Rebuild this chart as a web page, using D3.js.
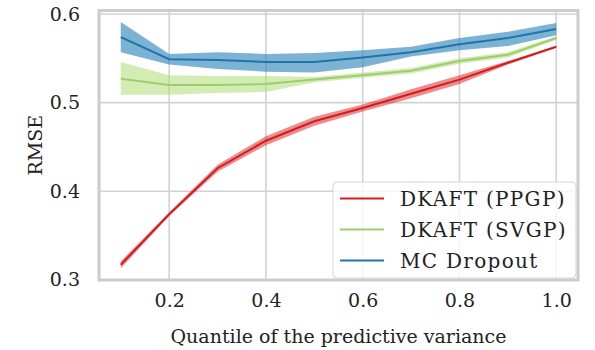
<!DOCTYPE html>
<html>
<head>
<meta charset="utf-8">
<script src="https://cdn.jsdelivr.net/npm/d3@7"></script>
<style>
  body { margin: 0; background: #fff; }
  svg text { font-family: "DejaVu Serif", serif; fill: #222; }
</style>
</head>
<body>
<div id="chart"></div>
<script>
// quantiles of the predictive variance
const quantiles = [0.1, 0.2, 0.3, 0.4, 0.5, 0.6, 0.7, 0.8, 0.9, 1.0];

// RMSE mean and band (lower / upper) per method
const ppgpMean  = [0.317, 0.374, 0.426, 0.457, 0.479, 0.494, 0.510, 0.526, 0.545, 0.563];
const ppgpLow   = [0.313, 0.372, 0.422, 0.452, 0.474, 0.490, 0.505, 0.521, 0.543, 0.562];
const ppgpHigh  = [0.321, 0.376, 0.430, 0.462, 0.484, 0.498, 0.515, 0.531, 0.547, 0.564];

const svgpMean  = [0.527, 0.520, 0.520, 0.521, 0.526, 0.531, 0.536, 0.547, 0.554, 0.573];
const svgpLow   = [0.509, 0.509, 0.511, 0.512, 0.523, 0.528, 0.533, 0.544, 0.551, 0.571];
const svgpHigh  = [0.546, 0.531, 0.530, 0.530, 0.529, 0.534, 0.539, 0.550, 0.557, 0.575];

const mcMean    = [0.574, 0.549, 0.548, 0.546, 0.546, 0.551, 0.557, 0.566, 0.573, 0.583];
const mcLow     = [0.557, 0.543, 0.538, 0.535, 0.534, 0.540, 0.552, 0.559, 0.564, 0.576];
const mcHigh    = [0.591, 0.555, 0.557, 0.555, 0.556, 0.559, 0.563, 0.573, 0.580, 0.590];

const seriesNames = ["DKAFT (PPGP)", "DKAFT (SVGP)", "MC Dropout"];
const xTicks = [0.2, 0.4, 0.6, 0.8, 1.0];
const yTicks = [0.3, 0.4, 0.5, 0.6];

const W = 595, H = 350;
const mLeft = 99, mRight = 578, mTop = 10.5, mBottom = 280;

const series = [
  { name: seriesNames[0], mean: ppgpMean, low: ppgpLow, high: ppgpHigh, line: "#d41c1c", fill: "#d7191c", op: 0.5 },
  { name: seriesNames[1], mean: svgpMean, low: svgpLow, high: svgpHigh, line: "#9fcd6e", fill: "#a6d96a", op: 0.5 },
  { name: seriesNames[2], mean: mcMean,   low: mcLow,   high: mcHigh,   line: "#1f74aa", fill: "#2b83ba", op: 0.62 }
];

const x = d3.scaleLinear().domain([0.055, 1.045]).range([mLeft, mRight]);
const y = d3.scaleLinear().domain([0.2998, 0.604]).range([mBottom, mTop]);

const svg = d3.select("#chart").append("svg")
  .attr("width", W).attr("height", H);

// grid
svg.append("g").selectAll("line").data(xTicks).enter().append("line")
  .attr("x1", d => x(d)).attr("x2", d => x(d))
  .attr("y1", mTop).attr("y2", mBottom)
  .attr("stroke", "#d2d2d2").attr("stroke-width", 1.6);
svg.append("g").selectAll("line").data(yTicks).enter().append("line")
  .attr("x1", mLeft).attr("x2", mRight)
  .attr("y1", d => y(d)).attr("y2", d => y(d))
  .attr("stroke", "#d2d2d2").attr("stroke-width", 1.6);

// bands and lines
const area = d3.area().x((d, i) => x(quantiles[i])).y0(d => y(d[0])).y1(d => y(d[1]));
const line = d3.line().x((d, i) => x(quantiles[i])).y(d => y(d));

series.forEach(s => {
  svg.append("path")
    .datum(s.low.map((v, i) => [v, s.high[i]]))
    .attr("d", area)
    .attr("fill", s.fill).attr("fill-opacity", s.op);
});
series.forEach(s => {
  svg.append("path")
    .datum(s.mean)
    .attr("d", line)
    .attr("fill", "none").attr("stroke", s.line).attr("stroke-width", 2);
});

// frame
svg.append("rect")
  .attr("x", mLeft).attr("y", mTop)
  .attr("width", mRight - mLeft).attr("height", mBottom - mTop)
  .attr("fill", "none").attr("stroke", "#cccccc").attr("stroke-width", 3);

// axes (no tick marks, just labels)
const xAxis = svg.append("g").attr("transform", `translate(0,${mBottom})`)
  .call(d3.axisBottom(x).tickValues(xTicks).tickFormat(d3.format(".1f")).tickSize(0).tickPadding(14));
const yAxis = svg.append("g").attr("transform", `translate(${mLeft},0)`)
  .call(d3.axisLeft(y).tickValues(yTicks).tickFormat(d3.format(".1f")).tickSize(0).tickPadding(19));
[xAxis, yAxis].forEach(a => {
  a.select(".domain").remove();
  a.selectAll("text").attr("font-family", "DejaVu Serif").attr("font-size", 19).attr("fill", "#222");
});
xAxis.selectAll("text").attr("dy", "0.71em");

svg.append("text")
  .attr("x", (mLeft + mRight) / 2).attr("y", 343)
  .attr("text-anchor", "middle").attr("font-size", 19)
  .text("Quantile of the predictive variance");

svg.append("text")
  .attr("transform", `translate(42,${(mTop + mBottom) / 2}) rotate(-90)`)
  .attr("text-anchor", "middle").attr("font-size", 19)
  .text("RMSE");

// legend
const lg = svg.append("g").attr("transform", "translate(333,182)");
lg.append("rect")
  .attr("width", 243).attr("height", 96).attr("rx", 4)
  .attr("fill", "#fff").attr("fill-opacity", 0.8)
  .attr("stroke", "#d6d6d6").attr("stroke-width", 1);
series.forEach((s, i) => {
  const yy = 16.5 + i * 31;
  lg.append("line")
    .attr("x1", 7).attr("x2", 51).attr("y1", yy).attr("y2", yy)
    .attr("stroke", s.line).attr("stroke-width", 2.2);
  lg.append("text")
    .attr("x", 67).attr("y", yy + 7.5)
    .attr("font-size", 20)
    .attr("letter-spacing", 1.3)
    .text(s.name);
});
</script>
</body>
</html>
